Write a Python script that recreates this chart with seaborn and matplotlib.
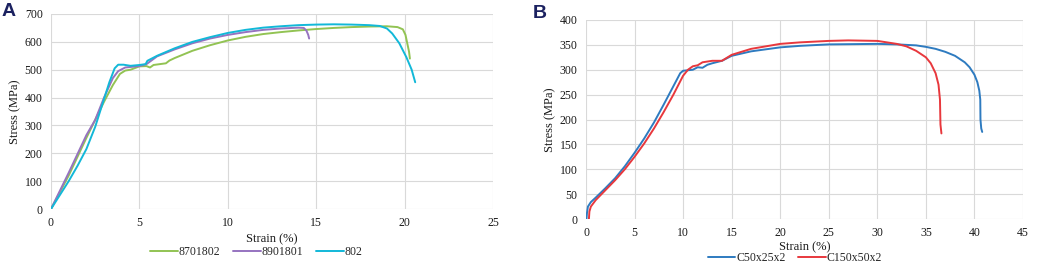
import numpy as np
import pandas as pd
import matplotlib
matplotlib.use("Agg")
import matplotlib.pyplot as plt
import seaborn as sns

# ---------------- Panel A data ----------------
a_green_x = [0, 1, 2, 3, 3.5, 3.9, 4.2, 4.5, 5.0, 5.4, 5.6, 5.8, 6.5, 6.7, 7, 8, 9, 10, 11, 12, 13, 14, 15, 16, 17, 18, 19, 19.6, 19.9, 20.05, 20.15, 20.25, 20.3]
a_green_y = [0, 120, 255, 385, 445, 485, 497, 500, 512, 513, 508, 517, 523, 533, 542, 568, 588, 605, 618, 628, 635, 641, 646, 650, 653, 655, 656, 653, 645, 625, 595, 565, 540]

a_purple_x = [0, 1, 2, 2.5, 3, 3.5, 3.8, 4.2, 5.0, 5.4, 6, 7, 8, 9, 10, 11, 12, 13, 14, 14.3, 14.45, 14.55, 14.6]
a_purple_y = [0, 130, 265, 320, 400, 470, 495, 508, 513, 520, 548, 573, 595, 612, 625, 635, 643, 648, 651, 650, 640, 625, 612]

a_cyan_x = [0, 1, 1.5, 2, 2.5, 3, 3.3, 3.6, 3.8, 4.1, 4.5, 5.0, 5.35, 5.45, 6, 7, 8, 9, 10, 11, 12, 13, 14, 15, 16, 17, 18, 18.6, 19.0, 19.3, 19.7, 20.1, 20.4, 20.6]
a_cyan_y = [0, 100, 155, 215, 295, 395, 455, 505, 518, 518, 514, 517, 520, 532, 550, 577, 600, 617, 632, 643, 651, 656, 660, 662, 663, 662, 660, 657, 648, 630, 595, 545, 500, 455]

a_labels = ["8701802", "8901801", "802"]
a_colors = ["#92C353", "#9673C0", "#12B8D8"]

# ---------------- Panel B data ----------------
b_blue_x = [0.05, 0.1, 0.2, 0.5, 1, 2, 3, 4, 5, 6, 7, 8, 9, 9.7, 10, 11, 11.5, 12, 12.5, 13, 14, 15, 17, 20, 22, 25, 30, 32, 34, 35, 36, 37, 38, 39, 39.5, 40, 40.3, 40.5, 40.6, 40.62, 40.7, 40.8]
b_blue_y = [0, 12, 25, 34, 43, 62, 82, 106, 133, 162, 194, 230, 267, 293, 298, 300, 305, 304, 310, 313, 318, 328, 337, 345, 348, 351, 352, 351, 349, 346, 342, 336, 328, 315, 305, 290, 275, 258, 240, 200, 182, 175]

b_red_x = [0.3, 0.35, 0.5, 1, 2, 3, 4, 5, 6, 7, 8, 9, 10, 10.5, 11, 11.5, 12, 13, 14, 15, 17, 20, 22, 25, 27, 30, 31, 32, 33, 34, 35, 35.5, 36, 36.3, 36.45, 36.5, 36.6]
b_red_y = [0, 15, 25, 38, 58, 78, 100, 125, 152, 182, 215, 250, 288, 300, 307, 309, 315, 318, 318, 330, 342, 352, 355, 358, 359, 358, 355, 352, 347, 338, 325, 313, 293, 270, 240, 190, 172]

b_labels = ["C50x25x2", "C150x50x2"]
b_colors = ["#2E7BC0", "#E8383D"]

# ---------------- Build tables ----------------
df_a = pd.concat([
    pd.DataFrame({"strain": x, "stress": y, "series": lab})
    for x, y, lab in zip([a_green_x, a_purple_x, a_cyan_x],
                         [a_green_y, a_purple_y, a_cyan_y], a_labels)
], ignore_index=True)
df_b = pd.concat([
    pd.DataFrame({"strain": x, "stress": y, "series": lab})
    for x, y, lab in zip([b_blue_x, b_red_x], [b_blue_y, b_red_y], b_labels)
], ignore_index=True)

sns.set_theme(style="white")
plt.rcParams["font.family"] = ["Liberation Serif", "DejaVu Serif"]
FS = 8.5

fig = plt.figure(figsize=(10.52, 2.77), dpi=100)
W, H = 1052, 277
axA = fig.add_axes([51 / W, (H - 209) / H, (493 - 51) / W, (209 - 14) / H])
axB = fig.add_axes([586 / W, (H - 219) / H, (1023 - 586) / W, (219 - 20) / H])

sns.lineplot(data=df_a, x="strain", y="stress", hue="series", hue_order=a_labels,
             palette=a_colors, sort=False, estimator=None, lw=1.4, ax=axA)
sns.lineplot(data=df_b, x="strain", y="stress", hue="series", hue_order=b_labels,
             palette=b_colors, sort=False, estimator=None, lw=1.4, ax=axB)

def style(ax, xmax, xstep, ymax, ystep, leg_x, leg_y, xlab_y, ylab_x):
    ax.set_xlim(0, xmax)
    ax.set_ylim(0, ymax)
    ax.set_xticks(np.arange(0, xmax + 0.1, xstep))
    ax.set_yticks(np.arange(0, ymax + 0.1, ystep))
    ax.grid(True, color="#d9d9d9", lw=0.8)
    ax.set_axisbelow(True)
    for s in ax.spines.values():
        s.set_visible(False)
    ax.tick_params(axis="both", length=0, labelsize=FS, colors="#1a1a1a", pad=6)
    ax.set_xlabel("Strain (%)", fontsize=FS + 0.5, color="#1a1a1a")
    ax.set_ylabel("Stress (MPa)", fontsize=FS + 0.5, color="#1a1a1a")
    ax.xaxis.set_label_coords(0.5, xlab_y)
    ax.xaxis.label.set_va("center")
    ax.yaxis.set_label_coords(ylab_x, 0.5)
    ax.yaxis.label.set_va("center")
    handles, labels = ax.get_legend_handles_labels()
    ax.legend(handles, labels, loc="center", bbox_to_anchor=(leg_x, leg_y), ncol=len(labels),
              frameon=False, fontsize=FS, handlelength=2.3, handletextpad=0.1,
              columnspacing=1.1, borderaxespad=0)

style(axA, 25, 5, 700, 100, 0.465, -0.22, -0.155, -(51 - 15) / 442)
style(axB, 45, 5, 400, 50, 0.478, -0.196, -0.141, -(586 - 550) / 437)

fig.text(9 / W, 1 - 12 / H, "A", fontsize=14, fontweight="bold", color="#1B2160",
         family="Liberation Sans", ha="center", va="center")
fig.text(540 / W, 1 - 13 / H, "B", fontsize=14, fontweight="bold", color="#1B2160",
         family="Liberation Sans", ha="center", va="center")

fig.savefig("out.png", dpi=100, facecolor="white")
